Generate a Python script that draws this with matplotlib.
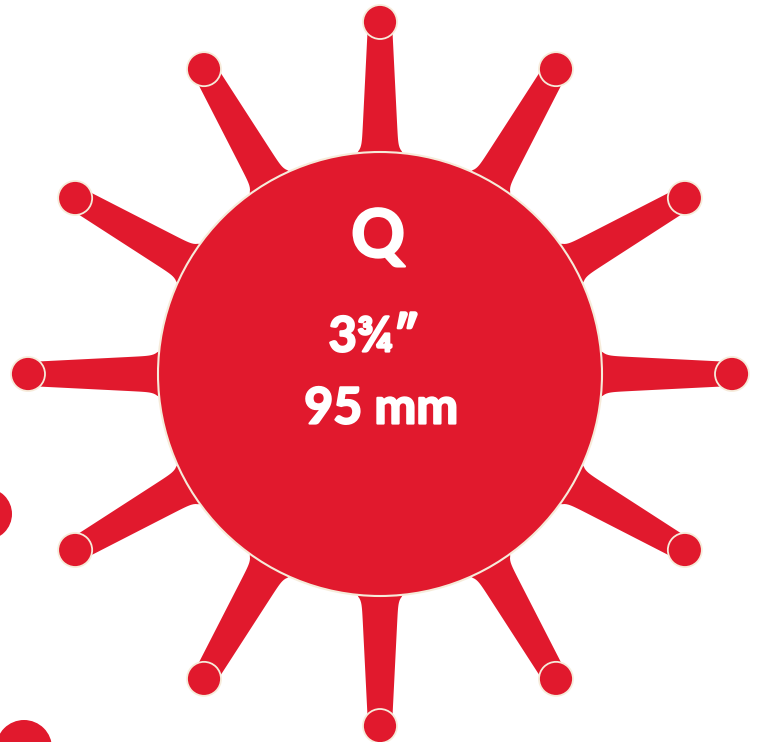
import numpy as np
import matplotlib
matplotlib.use('Agg')
import matplotlib.pyplot as plt
import matplotlib.patheffects as pe
from matplotlib.patches import Circle, Polygon

# sun badge data
spoke_angles = [90, 60, 30, 0, -30, -60, -90, -120, -150, 180, 150, 120]  # degrees
center = (380, 374)
body_radius = 222
knob_distance = 352
knob_radius = 17
label_letter = 'Q'
label_inch = '3¾″'
label_mm = '95 mm'
# stray dots at the left edge (cut off by the frame)
extra_dots_x = [-14, 24]
extra_dots_y = [514, 748]
extra_dots_r = [26, 28]

RED = '#E1192D'
SEAM = '#F6EBDA'

fig = plt.figure(figsize=(7.63, 7.42), dpi=100)
ax = fig.add_axes([0, 0, 1, 1])
ax.set_xlim(0, 763)
ax.set_ylim(742, 0)
ax.set_aspect('equal')
ax.axis('off')

cx, cy = center
rs = np.linspace(body_radius - 15, knob_distance - 5, 80)
hw = 18.5 - (rs - body_radius) * (6.5 / (knob_distance - body_radius)) \
    + 4 * np.exp(-np.clip(rs - body_radius, 0, None) / 4)

for a in spoke_angles:
    t = np.radians(a)
    ux, uy = np.cos(t), -np.sin(t)
    px, py = -uy, ux
    left = [(cx + r * ux + w * px, cy + r * uy + w * py) for r, w in zip(rs, hw)]
    right = [(cx + r * ux - w * px, cy + r * uy - w * py) for r, w in zip(rs, hw)]
    ax.add_patch(Polygon(left + right[::-1], closed=True, facecolor=RED,
                         edgecolor='none', zorder=1))
    kx = cx + knob_distance * ux
    ky = cy + knob_distance * uy
    ax.add_patch(Circle((kx, ky), knob_radius, facecolor=RED,
                        edgecolor=SEAM, linewidth=1.3, zorder=2))

ax.add_patch(Circle(center, body_radius, facecolor=RED, edgecolor=SEAM,
                    linewidth=1.5, zorder=3))

for x, y, r in zip(extra_dots_x, extra_dots_y, extra_dots_r):
    ax.add_patch(Circle((x, y), r, facecolor=RED, edgecolor='none', zorder=1))

fam = ['Lato', 'DejaVu Sans']
thick = [pe.withStroke(linewidth=1.6, foreground='white')]
ax.text(cx - 2, 238, label_letter, color='white', fontsize=48, fontweight='bold',
        family=fam, ha='center', va='center', zorder=4, path_effects=thick)
ax.text(cx - 6, 337, label_inch, color='white', fontsize=35, fontweight='bold',
        family=fam, ha='center', va='center', zorder=4, path_effects=thick)
ax.text(cx + 1, 409, label_mm, color='white', fontsize=36, fontweight='bold',
        family=fam, ha='center', va='center', zorder=4, path_effects=thick)

fig.savefig('out.png', dpi=100)
